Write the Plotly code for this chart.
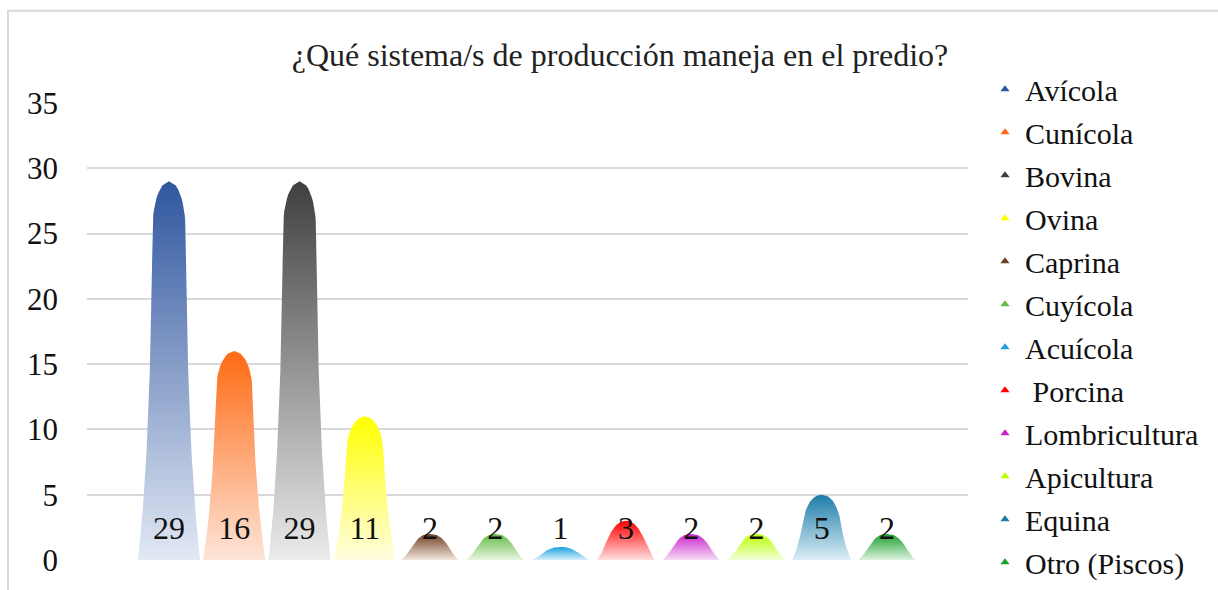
import numpy as np
import plotly.graph_objects as go

# data
categories = ["Avícola", "Cunícola", "Bovina", "Ovina", "Caprina", "Cuyícola",
              "Acuícola", " Porcina", "Lombricultura", "Apicultura", "Equina",
              "Otro (Piscos)"]
values = [29, 16, 29, 11, 2, 2, 1, 3, 2, 2, 5, 2]
top_colors = ["#2F569E", "#FF6A13", "#3F3F3F", "#FFFF00", "#6E3F22", "#66BB44",
              "#1BA0E2", "#FF0000", "#CC22CC", "#BBFF00", "#1D7BA8", "#1E9E2E"]
base_colors = ["#E2E8F4", "#FDE5D8", "#EBEBEB", "#FFFDE0", "#F3E6DD", "#E8F5E0",
               "#D8F0FB", "#FFE0E0", "#F5DDF7", "#F2FFD8", "#DCEEF6", "#DDF3DF"]
y_ticks = [0, 5, 10, 15, 20, 25, 30, 35]

FONT = "Liberation Serif, Times New Roman, serif"

# plot-area geometry in pixels
W, H = 1218, 590
PL, PR, PT, PB = 87, 968, 103, 564


def peak_outline(i, v, n=90):
    """Bell/peak outline for category i with height v (Excel 'peak' look)."""
    hw0 = 0.43 + 0.045 * min(v, 10) / 10
    cap = min(0.65 * v, 1.8 + 0.06 * v)
    s = min(11.0, 0.5 * v)
    expo = 0.45 if v < 6 else 0.5
    h = np.linspace(0, v, n)
    flare = 0.48 + 0.52 * np.exp(-h / s)
    u = np.clip((h - (v - cap)) / cap, 0, 1)
    round_top = (1 - u ** 2) ** expo
    hw = hw0 * flare * round_top
    xs = np.concatenate([i - hw, (i + hw)[::-1]])
    ys = np.concatenate([h, h[::-1]])
    return xs, ys


fig = go.Figure()

for i, (cat, v) in enumerate(zip(categories, values)):
    xs, ys = peak_outline(i, v)
    fig.add_trace(go.Scatter(
        x=xs, y=ys, mode="lines", fill="toself",
        line=dict(width=0, color=top_colors[i]),
        fillgradient=dict(type="vertical",
                          colorscale=[[0, base_colors[i]], [1, top_colors[i]]]),
        name=cat, showlegend=False, hoverinfo="skip",
    ))

# data labels
fig.add_trace(go.Scatter(
    x=list(range(len(values))), y=[2.2] * len(values),
    mode="text", text=[str(v) for v in values],
    textfont=dict(family=FONT, size=32, color="#111111"),
    showlegend=False, hoverinfo="skip",
))

# legend entries
for i, cat in enumerate(categories):
    fig.add_trace(go.Scatter(
        x=[None], y=[None], mode="markers", name=cat, legendgroup=cat,
        marker=dict(symbol="triangle-up", size=8, color=top_colors[i],
                    line=dict(width=0)),
    ))

pw = PR - PL
ph = PB - PT
fig.add_shape(type="rect", xref="paper", yref="paper",
              x0=(8 - PL) / pw, x1=(W + 20 - PL) / pw,
              y0=(PB - (H + 20)) / ph, y1=(PB - 10) / ph,
              line=dict(color="#D9D9D9", width=2), layer="below")

fig.update_layout(
    width=W, height=H,
    margin=dict(l=PL, r=W - PR, t=PT, b=H - PB),
    paper_bgcolor="white", plot_bgcolor="white",
    title=dict(text="¿Qué sistema/s de producción maneja en el predio?",
               x=620 / W, xref="container", xanchor="center",
               y=1 - 55 / H, yanchor="middle",
               font=dict(family=FONT, size=32, color="#222222")),
    xaxis=dict(range=[(PL - 169) / 65.27, (PR - 169) / 65.27],
               showgrid=False, zeroline=False, showticklabels=False,
               showline=False, fixedrange=True),
    yaxis=dict(range=[0, 35], tickvals=y_ticks, showgrid=True,
               gridcolor="#D9D9D9", gridwidth=2, zeroline=False,
               showline=False, ticklabelstandoff=28,
               tickfont=dict(family=FONT, size=31, color="#111111")),
    legend=dict(x=(985 - PL) / pw, xanchor="left",
                y=(PB - 63) / ph, yanchor="top",
                font=dict(family=FONT, size=30, color="#111111"),
                tracegroupgap=1, bgcolor="rgba(0,0,0,0)", maxheight=H),
    showlegend=True,
)

fig.write_html("out.html", config={"displayModeBar": False},
               post_script="document.body.style.margin='0';")
